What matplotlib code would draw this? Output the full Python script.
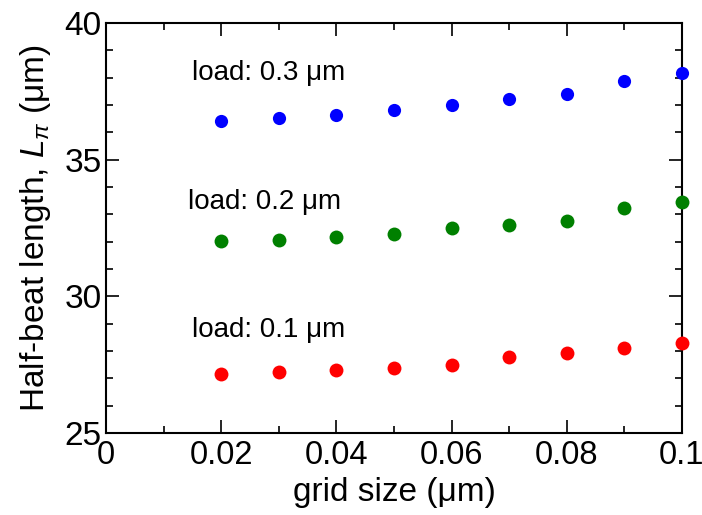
import numpy as np
import matplotlib
matplotlib.use('Agg')
import matplotlib.pyplot as plt
from matplotlib.ticker import MultipleLocator

plt.rcParams['font.family'] = ['Liberation Sans', 'DejaVu Sans']
plt.rcParams['mathtext.fontset'] = 'custom'
plt.rcParams['mathtext.rm'] = 'Liberation Sans'
plt.rcParams['mathtext.it'] = 'Liberation Sans:italic'

# grid size (um) and half-beat length (um) per load
grid = [0.02, 0.03, 0.04, 0.05, 0.06, 0.07, 0.08, 0.09, 0.10]
load_03 = [36.41, 36.54, 36.63, 36.82, 37.00, 37.22, 37.40, 37.88, 38.17]
load_02 = [32.02, 32.06, 32.17, 32.28, 32.50, 32.60, 32.75, 33.23, 33.44]
load_01 = [27.16, 27.24, 27.29, 27.39, 27.49, 27.79, 27.91, 28.10, 28.28]

labels = ['load: 0.3 \u03bcm', 'load: 0.2 \u03bcm', 'load: 0.1 \u03bcm']
label_pos = [(0.0149, 38.18), (0.0142, 33.45), (0.0149, 28.77)]

fig = plt.figure(figsize=(7.02, 5.15), dpi=100)
ax = fig.add_subplot(111)
fig.subplots_adjust(left=0.151, right=0.9715, top=0.9553, bottom=0.1592)

ax.plot(grid, load_03, 'o', color='#0000ff', markersize=9.5, markeredgewidth=0, clip_on=False, zorder=3)
ax.plot(grid, load_02, 'o', color='#008000', markersize=10, markeredgewidth=0, clip_on=False, zorder=3)
ax.plot(grid, load_01, 'o', color='#ff0000', markersize=10, markeredgewidth=0, clip_on=False, zorder=3)

for txt, (x, y) in zip(labels, label_pos):
    ax.text(x, y, txt, fontsize=20, ha='left', va='center', color='black')

ax.set_xlim(0, 0.1)
ax.set_ylim(25, 40)
ax.xaxis.set_minor_locator(MultipleLocator(0.01))
ax.yaxis.set_major_locator(MultipleLocator(5))
ax.yaxis.set_minor_locator(MultipleLocator(1))
ax.set_xticks([0, 0.02, 0.04, 0.06, 0.08, 0.1])
ax.set_xticklabels(['0', '0.02', '0.04', '0.06', '0.08', '0.1'])

ax.tick_params(which='both', direction='in', top=True, right=True, width=1.2)
ax.tick_params(which='major', length=9.5, labelsize=24)
ax.tick_params(axis='x', which='major', labelsize=23.5)
ax.tick_params(which='minor', length=5)
ax.tick_params(axis='x', which='major', pad=5)
ax.tick_params(axis='y', which='major', pad=3)
for sp in ax.spines.values():
    sp.set_linewidth(1.5)

ax.set_xlabel('grid size (\u03bcm)', fontsize=24, labelpad=4)
ax.set_ylabel('Half-beat length, $L_{\\pi}$ (\u03bcm)', fontsize=24, labelpad=8)

fig.savefig('out.png', dpi=100)
